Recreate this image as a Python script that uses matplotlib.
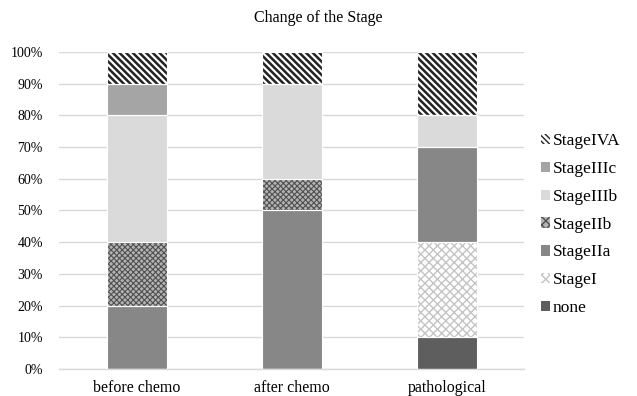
import matplotlib
matplotlib.use("Agg")
import matplotlib.pyplot as plt
import matplotlib.patches as mpatches
import numpy as np

categories = ["before chemo", "after chemo", "pathological"]
stages = ["none", "StageI", "StageIIa", "StageIIb", "StageIIIb", "StageIIIc", "StageIVA"]
none_vals = [0, 0, 10]
stage_i = [0, 0, 30]
stage_iia = [20, 50, 30]
stage_iib = [20, 10, 0]
stage_iiib = [40, 30, 10]
stage_iiic = [10, 0, 0]
stage_iva = [10, 10, 20]
values = [none_vals, stage_i, stage_iia, stage_iib, stage_iiib, stage_iiic, stage_iva]

# style: (facecolor, hatch, hatchcolor, hatch linewidth, legend hatch)
styles = [
    ("#5e5e5e", None, None, 1.0, None),
    ("#ffffff", "xxxx", "#c4c4c4", 1.0, "xxxx"),
    ("#878787", None, None, 1.0, None),
    ("#b4b4b4", "xxxxxx", "#505050", 0.8, "xxxx"),
    ("#dadada", None, None, 1.0, None),
    ("#a5a5a5", None, None, 1.0, None),
    ("#ffffff", "\\\\\\\\\\", "#222222", 1.8, "\\\\\\\\\\\\"),
]

plt.rcParams["font.family"] = ["Liberation Serif", "DejaVu Serif"]
fig = plt.figure(figsize=(6.37, 3.96), dpi=100)
ax = fig.add_axes([0.0934, 0.068, 0.7296, 0.801])

x = np.arange(len(categories))
bottom = np.zeros(len(categories))
handles = []
for name, vals, (fc, hatch, hc, hlw, lh) in zip(stages, values, styles):
    plt.rcParams["hatch.linewidth"] = hlw
    vals = np.array(vals, dtype=float)
    if hatch:
        ax.bar(x, vals, width=0.39, bottom=bottom, facecolor=fc,
               edgecolor=hc, hatch=hatch, linewidth=0, zorder=2)
        h = mpatches.Patch(facecolor=fc, edgecolor=hc, hatch=lh, linewidth=0)
    else:
        ax.bar(x, vals, width=0.39, bottom=bottom, facecolor=fc,
               edgecolor="none", linewidth=0, zorder=2)
        h = mpatches.Patch(facecolor=fc, edgecolor="none", linewidth=0)
    ax.bar(x, vals, width=0.39, bottom=bottom, fill=False,
           edgecolor="white", linewidth=0.8, zorder=3)
    handles.append(h)
    bottom += vals

ax.set_xlim(-0.5, 2.5)
ax.set_ylim(0, 100)
ax.set_yticks(np.arange(0, 101, 10))
ax.set_yticklabels([f"{v}%" for v in range(0, 101, 10)], fontsize=10)
ax.set_xticks(x)
ax.set_xticklabels(categories, fontsize=11.5)
ax.tick_params(length=0)
ax.tick_params(axis="y", pad=12)
ax.tick_params(axis="x", pad=8)
ax.grid(axis="y", color="#d9d9d9", linewidth=1, zorder=0)
ax.set_axisbelow(True)
for s in ["top", "right", "left"]:
    ax.spines[s].set_visible(False)
ax.spines["bottom"].set_color("#d9d9d9")
ax.spines["bottom"].set_linewidth(1)

fig.suptitle("Change of the Stage", fontsize=11.5, y=0.975)

plt.rcParams["hatch.linewidth"] = 1.0
leg = fig.legend(handles[::-1], stages[::-1], loc="upper left",
                 bbox_to_anchor=(0.838, 0.681), frameon=False, fontsize=12.5,
                 handlelength=0.55, handleheight=0.55, handletextpad=0.15,
                 labelspacing=0.68, borderaxespad=0)

fig.savefig("out.png", dpi=100)
